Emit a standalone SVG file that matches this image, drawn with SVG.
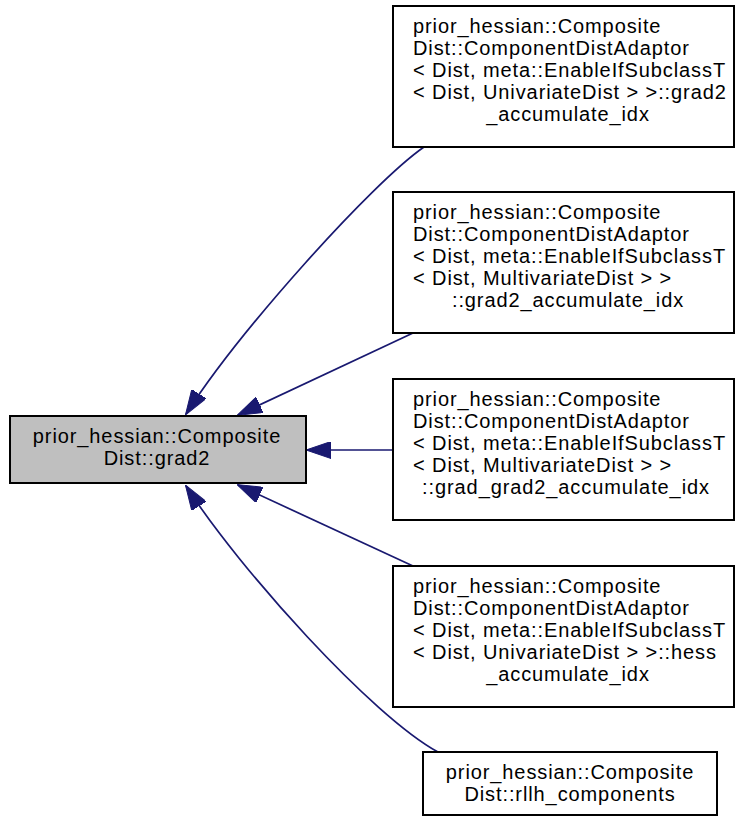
<svg xmlns="http://www.w3.org/2000/svg" width="736" height="817" viewBox="0 0 736 817">
<style>
  .box { fill: #ffffff; stroke: #000000; stroke-width: 2; }
  .main { fill: #bfbfbf; stroke: #000000; stroke-width: 2; }
  text { font-family: "Liberation Sans", Arial, sans-serif; font-size: 20px; fill: #000000; letter-spacing: 0.9px; }
  .c { text-anchor: middle; }
  .edge { fill: none; stroke: #191970; stroke-width: 1.7; }
</style>
<defs>
  <marker id="arr" viewBox="0 0 25 17" refX="24" refY="8.5" markerWidth="25" markerHeight="17" markerUnits="userSpaceOnUse" orient="auto">
    <path d="M0,0 L25,8.5 L0,17 z" fill="#191970" stroke="#191970" stroke-width="1"/>
  </marker>
</defs>
<rect width="736" height="817" fill="#ffffff"/>
<g id="edges">
  <path class="edge" d="M424,147 C372,183 240,330 186,414" marker-end="url(#arr)"/>
  <path class="edge" d="M413,333 L238,415" marker-end="url(#arr)"/>
  <path class="edge" d="M393,450 L307,450" marker-end="url(#arr)"/>
  <path class="edge" d="M413,566 L238,485" marker-end="url(#arr)"/>
  <path class="edge" d="M438,752 C372,716 240,570 186,486" marker-end="url(#arr)"/>
</g>
<g id="node-main">
  <rect class="main" x="10" y="416" width="296" height="67"/>
  <text class="c" x="157" y="443">prior_hessian::Composite</text>
  <text class="c" x="157" y="465">Dist::grad2</text>
</g>
<g id="node-1">
  <rect class="box" x="393" y="6" width="341" height="141"/>
  <text x="413" y="33">prior_hessian::Composite</text>
  <text x="413" y="55">Dist::ComponentDistAdaptor</text>
  <text x="413" y="77">&lt; Dist, meta::EnableIfSubclassT</text>
  <text x="413" y="99">&lt; Dist, UnivariateDist &gt; &gt;::grad2</text>
  <text class="c" x="568" y="121">_accumulate_idx</text>
</g>
<g id="node-2">
  <rect class="box" x="393" y="192" width="341" height="141"/>
  <text x="413" y="219">prior_hessian::Composite</text>
  <text x="413" y="241">Dist::ComponentDistAdaptor</text>
  <text x="413" y="263">&lt; Dist, meta::EnableIfSubclassT</text>
  <text x="413" y="285">&lt; Dist, MultivariateDist &gt; &gt;</text>
  <text class="c" x="568" y="307">::grad2_accumulate_idx</text>
</g>
<g id="node-3">
  <rect class="box" x="393" y="379" width="341" height="141"/>
  <text x="413" y="406">prior_hessian::Composite</text>
  <text x="413" y="428">Dist::ComponentDistAdaptor</text>
  <text x="413" y="450">&lt; Dist, meta::EnableIfSubclassT</text>
  <text x="413" y="472">&lt; Dist, MultivariateDist &gt; &gt;</text>
  <text class="c" x="566" y="494">::grad_grad2_accumulate_idx</text>
</g>
<g id="node-4">
  <rect class="box" x="393" y="566" width="341" height="141"/>
  <text x="413" y="593">prior_hessian::Composite</text>
  <text x="413" y="615">Dist::ComponentDistAdaptor</text>
  <text x="413" y="637">&lt; Dist, meta::EnableIfSubclassT</text>
  <text x="413" y="659">&lt; Dist, UnivariateDist &gt; &gt;::hess</text>
  <text class="c" x="568" y="681">_accumulate_idx</text>
</g>
<g id="node-5">
  <rect class="box" x="423" y="752" width="294" height="63"/>
  <text class="c" x="570" y="779">prior_hessian::Composite</text>
  <text class="c" x="570" y="801">Dist::rllh_components</text>
</g>
</svg>
